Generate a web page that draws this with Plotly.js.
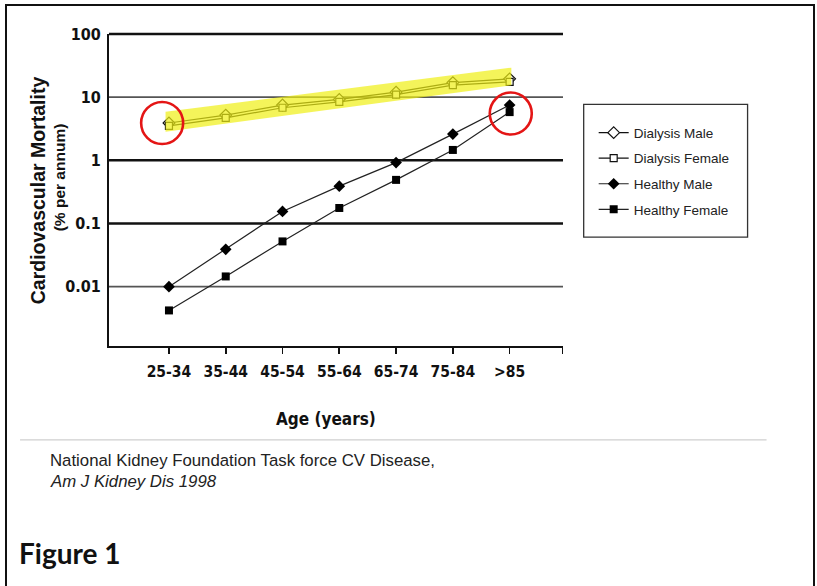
<!DOCTYPE html>
<html><head><meta charset="utf-8">
<script src="https://cdn.plot.ly/plotly-3.0.1.min.js"></script>
<style>
html,body{margin:0;padding:0;background:#fff;}
#wrap{position:relative;width:817px;height:586px;overflow:hidden;}
#chart{position:absolute;left:0;top:0;width:817px;height:586px;}
#frame{position:absolute;left:5px;top:4px;width:806px;height:620px;border:2px solid #111;border-bottom:none;pointer-events:none;}
</style></head>
<body><div id="wrap"><div id="chart"></div><div id="frame"></div></div>
<script>
// ---- data ----
const ageGroups = ['25-34','35-44','45-54','55-64','65-74','75-84','>85'];
const dialysisMale   = [3.9, 5.2, 7.5, 9.2, 12, 17, 19.5];
const dialysisFemale = [3.5, 4.7, 6.8, 8.4, 11, 15.5, 17.5];
const healthyMale    = [0.01, 0.039, 0.155, 0.39, 0.92, 2.6, 7.5];
const healthyFemale  = [0.0042, 0.0145, 0.052, 0.176, 0.49, 1.46, 5.8];
const yTickVals = [0.01, 0.1, 1, 10, 100];
const yTickText = ['0.01', '0.1', '1', '10', '100'];
const highlightX = [-0.06, 6.03, 6.03, -0.06];
const highlightY = [5.9, 29.3, 15.4, 2.84];
const circleX = [-0.12, 6.02];
const circleY = [3.9, 5.5];

// ---- geometry ----
const W = 817, H = 586;
const L = 109, R = 563.3, T = 33.5, B = 346;
const xRange = [-1.056, 6.94];
const yRange = [-2.94, 2];
const px2x = p => (p - L) / (R - L);
const py2y = p => (B - p) / (B - T);
const logPaper = v => (Math.log10(v) - yRange[0]) / (yRange[1] - yRange[0]);

const xIdx = ageGroups.map((_, i) => i);
const NARROW = '"DejaVu Sans Condensed", "Liberation Sans Narrow", "Arial Narrow", "Liberation Sans", Arial, sans-serif';
const SANS = '"Liberation Sans", Arial, sans-serif';

const traces = [
  {x: xIdx, y: dialysisMale, name: 'Dialysis Male', mode: 'lines+markers', legendgroup: 'a',
   line: {color: '#111', width: 1.2},
   marker: {symbol: 'diamond', size: 9, color: '#fff', line: {color: '#111', width: 1.2}}},
  {x: xIdx, y: dialysisFemale, name: 'Dialysis Female', mode: 'lines+markers', legendgroup: 'b',
   line: {color: '#111', width: 1.2},
   marker: {symbol: 'square', size: 7, color: '#fff', line: {color: '#111', width: 1.2}}},
  {x: highlightX, y: highlightY, mode: 'lines', fill: 'toself', showlegend: false, hoverinfo: 'skip',
   fillcolor: 'rgba(240,240,20,0.7)', line: {width: 0}},
  {x: xIdx, y: healthyMale, name: 'Healthy Male', mode: 'lines+markers', legendgroup: 'c',
   line: {color: '#222', width: 1.2},
   marker: {symbol: 'diamond', size: 9, color: '#000'}},
  {x: xIdx, y: healthyFemale, name: 'Healthy Female', mode: 'lines+markers', legendgroup: 'd',
   line: {color: '#222', width: 1.2},
   marker: {symbol: 'square', size: 8, color: '#000'}},
  {x: circleX, y: circleY, mode: 'markers', showlegend: false, hoverinfo: 'skip',
   marker: {symbol: 'circle-open', size: 42, color: '#e41515', line: {width: 2.6}}}
];

const shapes = [];
yTickVals.forEach(v => {
  const thin = (v === 10 || v === 0.01);
  shapes.push({type: 'line', xref: 'paper', yref: 'paper', x0: 0, x1: 1,
    y0: logPaper(v), y1: logPaper(v), layer: 'below',
    line: {color: thin ? '#555' : '#111', width: thin ? 1.8 : 2.6}});
});
// legend box
shapes.push({type: 'rect', xref: 'paper', yref: 'paper',
  x0: px2x(584), x1: px2x(748), y0: py2y(104), y1: py2y(237),
  line: {color: '#333', width: 1.3}, fillcolor: 'rgba(0,0,0,0)'});
// separator line
shapes.push({type: 'line', xref: 'paper', yref: 'paper',
  x0: px2x(20), x1: px2x(767), y0: py2y(440), y1: py2y(440),
  line: {color: '#cfcfcf', width: 1.2}});

const annotations = [
  {text: '<b>Cardiovascular Mortality</b>', textangle: -90, xref: 'paper', yref: 'paper',
   x: px2x(38), y: py2y(190), xanchor: 'center', yanchor: 'middle', showarrow: false,
   font: {family: SANS, size: 19.5, color: '#111'}},
  {text: '<b>(% per annum)</b>', textangle: -90, xref: 'paper', yref: 'paper',
   x: px2x(59), y: py2y(177), xanchor: 'center', yanchor: 'middle', showarrow: false,
   font: {family: SANS, size: 15.5, color: '#111'}},
  {text: '<b>Age (years)</b>', xref: 'paper', yref: 'paper',
   x: px2x(326), y: py2y(419), xanchor: 'center', yanchor: 'middle', showarrow: false,
   font: {family: NARROW, size: 17, color: '#111'}},
  {text: 'National Kidney Foundation Task force CV Disease,', xref: 'paper', yref: 'paper',
   x: px2x(48), y: py2y(461), xanchor: 'left', yanchor: 'middle', showarrow: false,
   font: {family: SANS, size: 16.8, color: '#222'}},
  {text: '<i>Am J Kidney Dis 1998</i>', xref: 'paper', yref: 'paper',
   x: px2x(48), y: py2y(482), xanchor: 'left', yanchor: 'middle', showarrow: false,
   font: {family: SANS, size: 16.8, color: '#222'}},
  {text: '<b>Figure 1</b>', xref: 'paper', yref: 'paper',
   x: px2x(17), y: py2y(553), xanchor: 'left', yanchor: 'middle', showarrow: false,
   font: {family: 'Lato, "Open Sans", sans-serif', size: 28, color: '#111'}}
];

const layout = {
  width: W, height: H,
  margin: {l: L, r: W - R, t: T, b: H - B, pad: 0},
  paper_bgcolor: '#fff', plot_bgcolor: '#fff',
  showlegend: true,
  legend: {x: px2x(594), y: py2y(117), xanchor: 'left', yanchor: 'top',
    bgcolor: 'rgba(0,0,0,0)', borderwidth: 0, tracegroupgap: 5, traceorder: 'grouped',
    font: {family: SANS, size: 13.5, color: '#222'}},
  xaxis: {range: xRange, showgrid: false, zeroline: false,
    tickmode: 'array', tickvals: xIdx.concat([6.93]), ticktext: ageGroups.concat(['']),
    ticks: 'outside', ticklen: 6, tickwidth: 1.6, tickcolor: '#111',
    showline: true, linecolor: '#111', linewidth: 2,
    tickfont: {family: NARROW, size: 15.5, color: '#111', weight: 'bold'}, ticklabelstandoff: 4},
  yaxis: {type: 'log', range: yRange, showgrid: false, zeroline: false,
    tickmode: 'array', tickvals: yTickVals, ticktext: yTickText,
    ticks: '', showline: true, linecolor: '#111', linewidth: 2,
    tickfont: {family: NARROW, size: 16, color: '#111', weight: 'bold'}, ticklabelstandoff: 3},
  shapes: shapes,
  annotations: annotations
};

Plotly.newPlot('chart', traces, layout, {staticPlot: true, displayModeBar: false});
</script>
</body></html>
